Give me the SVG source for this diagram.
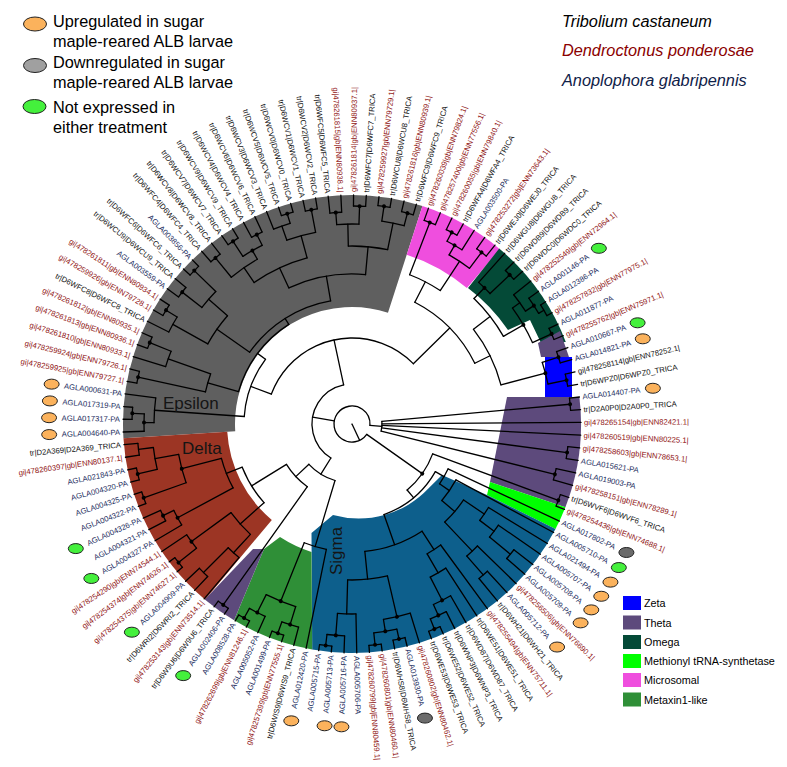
<svg xmlns="http://www.w3.org/2000/svg" width="787" height="767" viewBox="0 0 787 767">
<style>
.f{font-family:"Liberation Sans",Arial,Helvetica,sans-serif}
.t{font-size:7.7px}
.l{text-anchor:end}
.k{fill:#111}
.r{fill:#8f1313}
.u{fill:#1c2d5e}
.b{fill:none;stroke:#000;stroke-width:1.3;stroke-linecap:round}
.s{fill:none}
.o{fill:#fbb25c;stroke:#222;stroke-width:1}
.g{fill:#44f03c;stroke:#222;stroke-width:1}
.y{fill:#6b6b6b;stroke:#222;stroke-width:1}
.yl{fill:#a0a0a0;stroke:#222;stroke-width:1}
.big{font-size:16.3px}
.cl{font-size:17px;fill:#151515}
.lg{font-size:10.8px;fill:#000}
</style>
<rect width="787" height="767" fill="#fff"/>
<g id="tree" transform="translate(352,424)">
<g id="clades" class="s">
<circle r="173" stroke="#5f5f5f" stroke-width="112" pathLength="360" stroke-dasharray="111.5 400" transform="rotate(176.41)"/>
<circle r="203.5" stroke="#ef4ede" stroke-width="51" pathLength="360" stroke-dasharray="22.31 400" transform="rotate(287.91)"/>
<circle r="177" stroke="#9c3524" stroke-width="104" pathLength="360" stroke-dasharray="46.53 400" transform="rotate(489.9)"/>
<g transform="translate(-352,-424)" stroke="none">
<path fill="#044a37" d="M468 288L499.2 248.6A229 229 0 0 1 565.8 342L541 343L530 320L508 330A180 180 0 0 0 468 288Z"/>
<path fill="#5d4a7c" d="M541 357L538 343L560 331L569 357Z"/>
<rect x="545" y="357" width="27" height="40" fill="#0000ff"/>
<path fill="#5d4a7c" d="M507 397L579.4 397A229 229 0 0 1 565.4 507.2L490 482Z"/>
<path fill="#00ff00" d="M490 482L565.4 507.2A229 229 0 0 1 555.5 529L487 495Z"/>
<path fill="#0d5f8c" d="M312.2 649.5L311.5 533L333 515A96 96 0 0 0 428.6 488.3L442 475L487 495L555.5 529A229 229 0 0 1 312.2 649.5Z"/>
<path fill="#2f8f37" d="M264 549L280 537A134 134 0 0 0 311.5 552L312.2 649.5A229 229 0 0 1 234.1 620.3Z"/>
<path fill="#5d4a7c" d="M264 549L234.1 620.3A229 229 0 0 1 204.8 599.4L253 549Z"/>
</g>
</g>
<g id="connectors" class="b">
<circle r="18" pathLength="360" stroke-dasharray="329.16 400" transform="rotate(395.23)"/>
<path d="M0 0H18" transform="rotate(65)"/>
<path d="M18 0H86" transform="rotate(395.23)"/>
<path d="M18 0H40" transform="rotate(549.88)"/>
<path d="M18 0H30" transform="rotate(724.39)"/>
<circle r="30" pathLength="360" stroke-dasharray="19.11 400" transform="rotate(714.83)"/>
<path d="M30 0H219" transform="rotate(714.83)"/>
<path d="M30 0H229" transform="rotate(719.6)"/>
<path d="M30 0H229" transform="rotate(722.79)"/>
<path d="M30 0H217" transform="rotate(727.57)"/>
<path d="M30 0H209" transform="rotate(733.94)"/>
<circle r="219" pathLength="360" stroke-dasharray="3.19 400" transform="rotate(713.23)"/>
<path d="M219 0H229" transform="rotate(713.23)"/><path d="M219 0H229" transform="rotate(716.42)"/>
<circle r="217" pathLength="360" stroke-dasharray="3.18 400" transform="rotate(725.98)"/>
<path d="M217 0H229" transform="rotate(725.98)"/><path d="M217 0H229" transform="rotate(729.16)"/>
<circle r="209" pathLength="360" stroke-dasharray="3.18 400" transform="rotate(732.35)"/>
<path d="M209 0H229" transform="rotate(732.35)"/><path d="M209 0H229" transform="rotate(735.53)"/>
<circle r="86" pathLength="360" stroke-dasharray="29.82 400" transform="rotate(380.32)"/>
<path d="M86 0H220" transform="rotate(380.32)"/><path d="M86 0H96" transform="rotate(410.14)"/>
<circle r="220" pathLength="360" stroke-dasharray="3.19 400" transform="rotate(378.72)"/>
<path d="M220 0H229" transform="rotate(378.72)"/><path d="M220 0H229" transform="rotate(381.91)"/>
<circle r="96" pathLength="360" stroke-dasharray="40.82 400" transform="rotate(389.73)"/>
<path d="M96 0H106" transform="rotate(389.73)"/><path d="M96 0H128" transform="rotate(430.55)"/>
<circle r="106" pathLength="360" stroke-dasharray="9.27 400" transform="rotate(385.09)"/>
<path d="M106 0H229" transform="rotate(385.09)"/><path d="M106 0H118" transform="rotate(394.36)"/>
<circle r="118" pathLength="360" stroke-dasharray="12.15 400" transform="rotate(388.28)"/>
<path d="M118 0H229" transform="rotate(388.28)"/><path d="M118 0H135" transform="rotate(400.43)"/>
<circle r="135" pathLength="360" stroke-dasharray="12.35 400" transform="rotate(394.25)"/>
<path d="M135 0H160" transform="rotate(394.25)"/><path d="M135 0H175" transform="rotate(406.6)"/>
<circle r="160" pathLength="360" stroke-dasharray="5.58 400" transform="rotate(391.46)"/>
<path d="M160 0H229" transform="rotate(391.46)"/><path d="M160 0H178" transform="rotate(397.04)"/>
<circle r="178" pathLength="360" stroke-dasharray="4.78 400" transform="rotate(394.65)"/>
<path d="M178 0H229" transform="rotate(394.65)"/><path d="M178 0H205" transform="rotate(399.43)"/>
<circle r="205" pathLength="360" stroke-dasharray="3.18 400" transform="rotate(397.84)"/>
<path d="M205 0H229" transform="rotate(397.84)"/><path d="M205 0H229" transform="rotate(401.02)"/>
<circle r="175" pathLength="360" stroke-dasharray="4.78 400" transform="rotate(404.21)"/>
<path d="M175 0H229" transform="rotate(404.21)"/><path d="M175 0H200" transform="rotate(408.99)"/>
<circle r="200" pathLength="360" stroke-dasharray="3.18 400" transform="rotate(407.4)"/>
<path d="M200 0H229" transform="rotate(407.4)"/><path d="M200 0H229" transform="rotate(410.58)"/>
<circle r="128" pathLength="360" stroke-dasharray="27.38 400" transform="rotate(416.86)"/>
<path d="M128 0H150" transform="rotate(416.86)"/><path d="M128 0H156" transform="rotate(444.24)"/>
<circle r="150" pathLength="360" stroke-dasharray="6.17 400" transform="rotate(413.77)"/>
<path d="M150 0H229" transform="rotate(413.77)"/><path d="M150 0H172" transform="rotate(419.94)"/>
<circle r="172" pathLength="360" stroke-dasharray="5.98 400" transform="rotate(416.95)"/>
<path d="M172 0H229" transform="rotate(416.95)"/><path d="M172 0H198" transform="rotate(422.93)"/>
<circle r="198" pathLength="360" stroke-dasharray="5.58 400" transform="rotate(420.14)"/>
<path d="M198 0H229" transform="rotate(420.14)"/><path d="M198 0H210" transform="rotate(425.72)"/>
<circle r="210" pathLength="360" stroke-dasharray="4.78 400" transform="rotate(423.33)"/>
<path d="M210 0H229" transform="rotate(423.33)"/><path d="M210 0H221" transform="rotate(428.11)"/>
<circle r="221" pathLength="360" stroke-dasharray="3.19 400" transform="rotate(426.51)"/>
<path d="M221 0H229" transform="rotate(426.51)"/><path d="M221 0H229" transform="rotate(429.7)"/>
<circle r="156" pathLength="360" stroke-dasharray="14.73 400" transform="rotate(436.87)"/>
<path d="M156 0H198" transform="rotate(436.87)"/><path d="M156 0H190" transform="rotate(451.6)"/>
<circle r="198" pathLength="360" stroke-dasharray="7.98 400" transform="rotate(432.88)"/>
<path d="M198 0H229" transform="rotate(432.88)"/><path d="M198 0H210" transform="rotate(440.86)"/>
<circle r="210" pathLength="360" stroke-dasharray="6.37 400" transform="rotate(437.67)"/>
<path d="M210 0H220" transform="rotate(437.67)"/><path d="M210 0H222" transform="rotate(444.04)"/>
<circle r="220" pathLength="360" stroke-dasharray="3.19 400" transform="rotate(436.07)"/>
<path d="M220 0H229" transform="rotate(436.07)"/><path d="M220 0H229" transform="rotate(439.26)"/>
<circle r="222" pathLength="360" stroke-dasharray="3.19 400" transform="rotate(442.44)"/>
<path d="M222 0H229" transform="rotate(442.44)"/><path d="M222 0H229" transform="rotate(445.63)"/>
<circle r="190" pathLength="360" stroke-dasharray="5.58 400" transform="rotate(448.81)"/>
<path d="M190 0H229" transform="rotate(448.81)"/><path d="M190 0H212" transform="rotate(454.39)"/>
<circle r="212" pathLength="360" stroke-dasharray="4.78 400" transform="rotate(452)"/>
<path d="M212 0H229" transform="rotate(452)"/><path d="M212 0H223" transform="rotate(456.78)"/>
<circle r="223" pathLength="360" stroke-dasharray="3.18 400" transform="rotate(455.19)"/>
<path d="M223 0H229" transform="rotate(455.19)"/><path d="M223 0H229" transform="rotate(458.37)"/>
<circle r="40" pathLength="360" stroke-dasharray="136.1 400" transform="rotate(481.83)"/>
<path d="M40 0H59" transform="rotate(481.83)"/><path d="M40 0H86" transform="rotate(617.93)"/>
<circle r="59" pathLength="360" stroke-dasharray="30.17 400" transform="rotate(466.74)"/>
<path d="M59 0H128" transform="rotate(466.74)"/><path d="M59 0H77" transform="rotate(496.91)"/>
<circle r="128" pathLength="360" stroke-dasharray="10.36 400" transform="rotate(461.56)"/>
<path d="M128 0H229" transform="rotate(461.56)"/><path d="M128 0H191" transform="rotate(471.92)"/>
<circle r="191" pathLength="360" stroke-dasharray="9.55 400" transform="rotate(467.14)"/>
<path d="M191 0H210" transform="rotate(467.14)"/><path d="M191 0H211" transform="rotate(476.69)"/>
<circle r="210" pathLength="360" stroke-dasharray="4.79 400" transform="rotate(464.74)"/>
<path d="M210 0H229" transform="rotate(464.74)"/><path d="M210 0H222" transform="rotate(469.53)"/>
<circle r="222" pathLength="360" stroke-dasharray="3.19 400" transform="rotate(467.93)"/>
<path d="M222 0H229" transform="rotate(467.93)"/><path d="M222 0H229" transform="rotate(471.12)"/>
<circle r="211" pathLength="360" stroke-dasharray="4.78 400" transform="rotate(474.3)"/>
<path d="M211 0H229" transform="rotate(474.3)"/><path d="M211 0H222" transform="rotate(479.08)"/>
<circle r="222" pathLength="360" stroke-dasharray="3.18 400" transform="rotate(477.49)"/>
<path d="M222 0H229" transform="rotate(477.49)"/><path d="M222 0H229" transform="rotate(480.67)"/>
<circle r="77" pathLength="360" stroke-dasharray="22.9 400" transform="rotate(485.46)"/>
<path d="M77 0H222" transform="rotate(485.46)"/><path d="M77 0H118" transform="rotate(508.36)"/>
<circle r="222" pathLength="360" stroke-dasharray="3.19 400" transform="rotate(483.86)"/>
<path d="M222 0H229" transform="rotate(483.86)"/><path d="M222 0H229" transform="rotate(487.05)"/>
<circle r="118" pathLength="360" stroke-dasharray="20.31 400" transform="rotate(498.2)"/>
<path d="M118 0H150" transform="rotate(498.2)"/><path d="M118 0H135" transform="rotate(518.51)"/>
<circle r="150" pathLength="360" stroke-dasharray="11.16 400" transform="rotate(492.62)"/>
<path d="M150 0H175" transform="rotate(492.62)"/><path d="M150 0H199" transform="rotate(503.78)"/>
<circle r="175" pathLength="360" stroke-dasharray="4.78 400" transform="rotate(490.23)"/>
<path d="M175 0H229" transform="rotate(490.23)"/><path d="M175 0H210" transform="rotate(495.01)"/>
<circle r="210" pathLength="360" stroke-dasharray="3.18 400" transform="rotate(493.42)"/>
<path d="M210 0H229" transform="rotate(493.42)"/><path d="M210 0H229" transform="rotate(496.6)"/>
<circle r="199" pathLength="360" stroke-dasharray="4.77 400" transform="rotate(501.39)"/>
<path d="M199 0H222" transform="rotate(501.39)"/><path d="M199 0H229" transform="rotate(506.16)"/>
<circle r="222" pathLength="360" stroke-dasharray="3.19 400" transform="rotate(499.79)"/>
<path d="M222 0H229" transform="rotate(499.79)"/><path d="M222 0H229" transform="rotate(502.98)"/>
<circle r="135" pathLength="360" stroke-dasharray="13.54 400" transform="rotate(511.74)"/>
<path d="M135 0H198" transform="rotate(511.74)"/><path d="M135 0H176" transform="rotate(525.28)"/>
<circle r="198" pathLength="360" stroke-dasharray="4.78 400" transform="rotate(509.35)"/>
<path d="M198 0H229" transform="rotate(509.35)"/><path d="M198 0H210" transform="rotate(514.13)"/>
<circle r="210" pathLength="360" stroke-dasharray="3.19 400" transform="rotate(512.53)"/>
<path d="M210 0H229" transform="rotate(512.53)"/><path d="M210 0H229" transform="rotate(515.72)"/>
<circle r="176" pathLength="360" stroke-dasharray="9.56 400" transform="rotate(520.5)"/>
<path d="M176 0H221" transform="rotate(520.5)"/><path d="M176 0H200" transform="rotate(530.06)"/>
<circle r="221" pathLength="360" stroke-dasharray="3.18 400" transform="rotate(518.91)"/>
<path d="M221 0H229" transform="rotate(518.91)"/><path d="M221 0H229" transform="rotate(522.09)"/>
<circle r="200" pathLength="360" stroke-dasharray="6.38 400" transform="rotate(526.87)"/>
<path d="M200 0H220" transform="rotate(526.87)"/><path d="M200 0H215" transform="rotate(533.25)"/>
<circle r="220" pathLength="360" stroke-dasharray="3.18 400" transform="rotate(525.28)"/>
<path d="M220 0H229" transform="rotate(525.28)"/><path d="M220 0H229" transform="rotate(528.46)"/>
<circle r="215" pathLength="360" stroke-dasharray="3.19 400" transform="rotate(531.65)"/>
<path d="M215 0H229" transform="rotate(531.65)"/><path d="M215 0H229" transform="rotate(534.84)"/>
<circle r="86" pathLength="360" stroke-dasharray="115.12 400" transform="rotate(560.37)"/>
<path d="M86 0H108" transform="rotate(560.37)"/><path d="M86 0H137" transform="rotate(675.49)"/>
<circle r="108" pathLength="360" stroke-dasharray="32.79 400" transform="rotate(543.98)"/>
<path d="M108 0H198" transform="rotate(543.98)"/><path d="M108 0H118" transform="rotate(576.77)"/>
<circle r="118" pathLength="360" stroke-dasharray="41.67 400" transform="rotate(555.93)"/>
<path d="M118 0H150" transform="rotate(555.93)"/><path d="M118 0H125" transform="rotate(597.6)"/>
<circle r="150" pathLength="360" stroke-dasharray="7.17 400" transform="rotate(552.34)"/>
<path d="M150 0H219" transform="rotate(552.34)"/><path d="M150 0H195" transform="rotate(559.51)"/>
<circle r="198" pathLength="360" stroke-dasharray="7.17 400" transform="rotate(540.39)"/>
<path d="M198 0H208" transform="rotate(540.39)"/><path d="M198 0H229" transform="rotate(547.56)"/>
<circle r="208" pathLength="360" stroke-dasharray="4.78 400" transform="rotate(538)"/>
<path d="M208 0H229" transform="rotate(538)"/><path d="M208 0H220" transform="rotate(542.78)"/>
<circle r="220" pathLength="360" stroke-dasharray="3.18 400" transform="rotate(541.19)"/>
<path d="M220 0H229" transform="rotate(541.19)"/><path d="M220 0H229" transform="rotate(544.37)"/>
<circle r="219" pathLength="360" stroke-dasharray="3.19 400" transform="rotate(550.74)"/>
<path d="M219 0H229" transform="rotate(550.74)"/><path d="M219 0H229" transform="rotate(553.93)"/>
<circle r="195" pathLength="360" stroke-dasharray="4.78 400" transform="rotate(557.12)"/>
<path d="M195 0H229" transform="rotate(557.12)"/><path d="M195 0H218" transform="rotate(561.9)"/>
<circle r="218" pathLength="360" stroke-dasharray="3.19 400" transform="rotate(560.3)"/>
<path d="M218 0H229" transform="rotate(560.3)"/><path d="M218 0H229" transform="rotate(563.49)"/>
<circle r="125" pathLength="360" stroke-dasharray="45.1 400" transform="rotate(575.05)"/>
<path d="M125 0H165" transform="rotate(575.05)"/><path d="M125 0H150" transform="rotate(620.15)"/>
<circle r="165" pathLength="360" stroke-dasharray="11.95 400" transform="rotate(569.07)"/>
<path d="M165 0H205" transform="rotate(569.07)"/><path d="M165 0H190" transform="rotate(581.02)"/>
<circle r="205" pathLength="360" stroke-dasharray="4.79 400" transform="rotate(566.67)"/>
<path d="M205 0H229" transform="rotate(566.67)"/><path d="M205 0H218" transform="rotate(571.46)"/>
<circle r="218" pathLength="360" stroke-dasharray="3.19 400" transform="rotate(569.86)"/>
<path d="M218 0H229" transform="rotate(569.86)"/><path d="M218 0H229" transform="rotate(573.05)"/>
<circle r="190" pathLength="360" stroke-dasharray="6.37 400" transform="rotate(577.83)"/>
<path d="M190 0H215" transform="rotate(577.83)"/><path d="M190 0H220" transform="rotate(584.2)"/>
<circle r="215" pathLength="360" stroke-dasharray="3.19 400" transform="rotate(576.23)"/>
<path d="M215 0H229" transform="rotate(576.23)"/><path d="M215 0H229" transform="rotate(579.42)"/>
<circle r="220" pathLength="360" stroke-dasharray="3.19 400" transform="rotate(582.6)"/>
<path d="M220 0H229" transform="rotate(582.6)"/><path d="M220 0H229" transform="rotate(585.79)"/>
<circle r="150" pathLength="360" stroke-dasharray="30.07 400" transform="rotate(605.11)"/>
<path d="M150 0H172" transform="rotate(605.11)"/><path d="M150 0H178" transform="rotate(635.18)"/>
<circle r="172" pathLength="360" stroke-dasharray="19.52 400" transform="rotate(595.35)"/>
<path d="M172 0H190" transform="rotate(595.35)"/><path d="M172 0H195" transform="rotate(614.87)"/>
<circle r="190" pathLength="360" stroke-dasharray="9.56 400" transform="rotate(590.57)"/>
<path d="M190 0H215" transform="rotate(590.57)"/><path d="M190 0H200" transform="rotate(600.13)"/>
<circle r="215" pathLength="360" stroke-dasharray="3.18 400" transform="rotate(588.98)"/>
<path d="M215 0H229" transform="rotate(588.98)"/><path d="M215 0H229" transform="rotate(592.16)"/>
<circle r="200" pathLength="360" stroke-dasharray="6.38 400" transform="rotate(596.94)"/>
<path d="M200 0H218" transform="rotate(596.94)"/><path d="M200 0H212" transform="rotate(603.32)"/>
<circle r="218" pathLength="360" stroke-dasharray="3.18 400" transform="rotate(595.35)"/>
<path d="M218 0H229" transform="rotate(595.35)"/><path d="M218 0H229" transform="rotate(598.53)"/>
<circle r="212" pathLength="360" stroke-dasharray="3.19 400" transform="rotate(601.72)"/>
<path d="M212 0H229" transform="rotate(601.72)"/><path d="M212 0H229" transform="rotate(604.91)"/>
<circle r="195" pathLength="360" stroke-dasharray="8.77 400" transform="rotate(610.48)"/>
<path d="M195 0H210" transform="rotate(610.48)"/><path d="M195 0H218" transform="rotate(619.25)"/>
<circle r="210" pathLength="360" stroke-dasharray="4.78 400" transform="rotate(608.09)"/>
<path d="M210 0H229" transform="rotate(608.09)"/><path d="M210 0H220" transform="rotate(612.87)"/>
<circle r="220" pathLength="360" stroke-dasharray="3.18 400" transform="rotate(611.28)"/>
<path d="M220 0H229" transform="rotate(611.28)"/><path d="M220 0H229" transform="rotate(614.46)"/>
<circle r="218" pathLength="360" stroke-dasharray="3.19 400" transform="rotate(617.65)"/>
<path d="M218 0H229" transform="rotate(617.65)"/><path d="M218 0H229" transform="rotate(620.84)"/>
<circle r="178" pathLength="360" stroke-dasharray="12.74 400" transform="rotate(628.81)"/>
<path d="M178 0H200" transform="rotate(628.81)"/><path d="M178 0H205" transform="rotate(641.55)"/>
<circle r="200" pathLength="360" stroke-dasharray="6.37 400" transform="rotate(625.62)"/>
<path d="M200 0H212" transform="rotate(625.62)"/><path d="M200 0H218" transform="rotate(631.99)"/>
<circle r="212" pathLength="360" stroke-dasharray="3.19 400" transform="rotate(624.02)"/>
<path d="M212 0H229" transform="rotate(624.02)"/><path d="M212 0H229" transform="rotate(627.21)"/>
<circle r="218" pathLength="360" stroke-dasharray="3.19 400" transform="rotate(630.39)"/>
<path d="M218 0H229" transform="rotate(630.39)"/><path d="M218 0H229" transform="rotate(633.58)"/>
<circle r="205" pathLength="360" stroke-dasharray="6.37 400" transform="rotate(638.36)"/>
<path d="M205 0H220" transform="rotate(638.36)"/><path d="M205 0H218" transform="rotate(644.73)"/>
<circle r="220" pathLength="360" stroke-dasharray="3.18 400" transform="rotate(636.77)"/>
<path d="M220 0H229" transform="rotate(636.77)"/><path d="M220 0H229" transform="rotate(639.95)"/>
<circle r="218" pathLength="360" stroke-dasharray="3.18 400" transform="rotate(643.14)"/>
<path d="M218 0H229" transform="rotate(643.14)"/><path d="M218 0H229" transform="rotate(646.32)"/>
<circle r="137" pathLength="360" stroke-dasharray="36.39 400" transform="rotate(657.29)"/>
<path d="M137 0H160" transform="rotate(657.29)"/><path d="M137 0H154" transform="rotate(693.68)"/>
<circle r="160" pathLength="360" stroke-dasharray="12.35 400" transform="rotate(651.11)"/>
<path d="M160 0H216" transform="rotate(651.11)"/><path d="M160 0H195" transform="rotate(663.46)"/>
<circle r="216" pathLength="360" stroke-dasharray="3.19 400" transform="rotate(649.51)"/>
<path d="M216 0H229" transform="rotate(649.51)"/><path d="M216 0H229" transform="rotate(652.7)"/>
<circle r="195" pathLength="360" stroke-dasharray="7.17 400" transform="rotate(659.87)"/>
<path d="M195 0H206" transform="rotate(659.87)"/><path d="M195 0H215" transform="rotate(667.04)"/>
<circle r="206" pathLength="360" stroke-dasharray="4.77 400" transform="rotate(657.48)"/>
<path d="M206 0H216" transform="rotate(657.48)"/><path d="M206 0H229" transform="rotate(662.25)"/>
<circle r="216" pathLength="360" stroke-dasharray="3.19 400" transform="rotate(655.88)"/>
<path d="M216 0H229" transform="rotate(655.88)"/><path d="M216 0H229" transform="rotate(659.07)"/>
<circle r="215" pathLength="360" stroke-dasharray="3.19 400" transform="rotate(665.44)"/>
<path d="M215 0H229" transform="rotate(665.44)"/><path d="M215 0H229" transform="rotate(668.63)"/>
<circle r="154" pathLength="360" stroke-dasharray="23.19 400" transform="rotate(682.08)"/>
<path d="M154 0H175" transform="rotate(682.08)"/><path d="M154 0H200" transform="rotate(705.27)"/>
<circle r="175" pathLength="360" stroke-dasharray="15.73 400" transform="rotate(674.21)"/>
<path d="M175 0H190" transform="rotate(674.21)"/><path d="M175 0H198" transform="rotate(689.94)"/>
<circle r="190" pathLength="360" stroke-dasharray="4.79 400" transform="rotate(671.81)"/>
<path d="M190 0H229" transform="rotate(671.81)"/><path d="M190 0H217" transform="rotate(676.6)"/>
<circle r="217" pathLength="360" stroke-dasharray="3.19 400" transform="rotate(675)"/>
<path d="M217 0H229" transform="rotate(675)"/><path d="M217 0H229" transform="rotate(678.19)"/>
<circle r="198" pathLength="360" stroke-dasharray="11.55 400" transform="rotate(684.16)"/>
<path d="M198 0H207" transform="rotate(684.16)"/><path d="M198 0H219" transform="rotate(695.71)"/>
<circle r="207" pathLength="360" stroke-dasharray="5.58 400" transform="rotate(681.37)"/>
<path d="M207 0H229" transform="rotate(681.37)"/><path d="M207 0H217" transform="rotate(686.95)"/>
<circle r="217" pathLength="360" stroke-dasharray="4.78 400" transform="rotate(684.56)"/>
<path d="M217 0H229" transform="rotate(684.56)"/><path d="M217 0H223" transform="rotate(689.34)"/>
<circle r="223" pathLength="360" stroke-dasharray="3.19 400" transform="rotate(687.74)"/>
<path d="M223 0H229" transform="rotate(687.74)"/><path d="M223 0H229" transform="rotate(690.93)"/>
<circle r="219" pathLength="360" stroke-dasharray="3.18 400" transform="rotate(694.12)"/>
<path d="M219 0H229" transform="rotate(694.12)"/><path d="M219 0H229" transform="rotate(697.3)"/>
<circle r="200" pathLength="360" stroke-dasharray="6.38 400" transform="rotate(702.08)"/>
<path d="M200 0H217" transform="rotate(702.08)"/><path d="M200 0H219" transform="rotate(708.46)"/>
<circle r="217" pathLength="360" stroke-dasharray="3.18 400" transform="rotate(700.49)"/>
<path d="M217 0H229" transform="rotate(700.49)"/><path d="M217 0H229" transform="rotate(703.67)"/>
<circle r="219" pathLength="360" stroke-dasharray="3.19 400" transform="rotate(706.86)"/>
<path d="M219 0H229" transform="rotate(706.86)"/><path d="M219 0H229" transform="rotate(710.05)"/>
</g>
<g id="support" fill="#000">
<circle cx="219" r="2" transform="rotate(714.83)"/><circle cx="217" r="2" transform="rotate(727.57)"/><circle cx="209" r="2" transform="rotate(733.94)"/>
<circle cx="86" r="2" transform="rotate(395.23)"/><circle cx="220" r="2" transform="rotate(380.32)"/>
<circle cx="198" r="2" transform="rotate(422.93)"/><circle cx="210" r="2" transform="rotate(425.72)"/><circle cx="221" r="2" transform="rotate(428.11)"/>
<circle cx="198" r="2" transform="rotate(436.87)"/><circle cx="210" r="2" transform="rotate(440.86)"/><circle cx="220" r="2" transform="rotate(437.67)"/>
<circle cx="222" r="2" transform="rotate(444.04)"/><circle cx="212" r="2" transform="rotate(454.39)"/><circle cx="223" r="2" transform="rotate(456.78)"/>
<circle cx="191" r="2" transform="rotate(471.92)"/><circle cx="210" r="2" transform="rotate(467.14)"/><circle cx="222" r="2" transform="rotate(469.53)"/>
<circle cx="211" r="2" transform="rotate(476.69)"/><circle cx="222" r="2" transform="rotate(479.08)"/><circle cx="222" r="2" transform="rotate(485.46)"/>
<circle cx="199" r="2" transform="rotate(503.78)"/><circle cx="222" r="2" transform="rotate(501.39)"/><circle cx="198" r="2" transform="rotate(511.74)"/>
<circle cx="210" r="2" transform="rotate(514.13)"/><circle cx="221" r="2" transform="rotate(520.5)"/><circle cx="176" r="2" transform="rotate(525.28)"/>
<circle cx="220" r="2" transform="rotate(526.87)"/>
<circle cx="208" r="2" transform="rotate(540.39)"/><circle cx="220" r="2" transform="rotate(542.78)"/><circle cx="219" r="2" transform="rotate(552.34)"/>
<circle cx="218" r="2" transform="rotate(561.9)"/><circle cx="218" r="2" transform="rotate(571.46)"/><circle cx="215" r="2" transform="rotate(577.83)"/>
<circle cx="220" r="2" transform="rotate(584.2)"/><circle cx="215" r="2" transform="rotate(590.57)"/><circle cx="200" r="2" transform="rotate(600.13)"/>
<circle cx="218" r="2" transform="rotate(596.94)"/><circle cx="212" r="2" transform="rotate(603.32)"/><circle cx="220" r="2" transform="rotate(612.87)"/>
<circle cx="218" r="2" transform="rotate(619.25)"/><circle cx="212" r="2" transform="rotate(625.62)"/><circle cx="218" r="2" transform="rotate(631.99)"/>
<circle cx="220" r="2" transform="rotate(638.36)"/><circle cx="218" r="2" transform="rotate(644.73)"/>
<circle cx="216" r="2" transform="rotate(651.11)"/><circle cx="206" r="2" transform="rotate(659.87)"/><circle cx="216" r="2" transform="rotate(657.48)"/>
<circle cx="215" r="2" transform="rotate(667.04)"/><circle cx="190" r="2" transform="rotate(674.21)"/><circle cx="217" r="2" transform="rotate(676.6)"/>
<circle cx="198" r="2" transform="rotate(689.94)"/><circle cx="217" r="2" transform="rotate(686.95)"/><circle cx="219" r="2" transform="rotate(695.71)"/>
<circle cx="200" r="2" transform="rotate(705.27)"/><circle cx="217" r="2" transform="rotate(702.08)"/><circle cx="219" r="2" transform="rotate(708.46)"/>
</g>
<g id="leaves" class="f t">
<g id="leaf1"><text class="u l" transform="rotate(-2)" x="-232" dy="2.7">AGLA004640-PA</text><ellipse class="o" rx="7.5" ry="5" transform="rotate(178) translate(303) rotate(-178)"/></g>
<g id="leaf2"><text class="u l" transform="rotate(1.19)" x="-232" dy="2.7">AGLA017317-PA</text><ellipse class="o" rx="7.5" ry="5" transform="rotate(181.19) translate(303) rotate(-181.19)"/></g>
<g id="leaf3"><text class="u l" transform="rotate(4.37)" x="-232" dy="2.7">AGLA017319-PA</text><ellipse class="o" rx="7.5" ry="5" transform="rotate(184.37) translate(303) rotate(-184.37)"/></g>
<g id="leaf4"><text class="u l" transform="rotate(7.56)" x="-232" dy="2.7">AGLA000631-PA</text><ellipse class="o" rx="7.5" ry="5" transform="rotate(187.56) translate(303) rotate(-187.56)"/></g>
<g id="leaf5"><text class="r l" transform="rotate(10.74)" x="-232" dy="2.7">gi|478259925|gb|ENN79727.1|</text></g>
<g id="leaf6"><text class="r l" transform="rotate(13.93)" x="-232" dy="2.7">gi|478259924|gb|ENN79726.1|</text></g>
<g id="leaf7"><text class="r l" transform="rotate(17.12)" x="-232" dy="2.7">gi|478261810|gb|ENN80933.1|</text></g>
<g id="leaf8"><text class="r l" transform="rotate(20.3)" x="-232" dy="2.7">gi|478261813|gb|ENN80936.1|</text></g>
<g id="leaf9"><text class="r l" transform="rotate(23.49)" x="-232" dy="2.7">gi|478261812|gb|ENN80935.1|</text></g>
<g id="leaf10"><text class="k l" transform="rotate(26.67)" x="-232" dy="2.7">tr|D6WFC8|D6WFC8_TRICA</text></g>
<g id="leaf11"><text class="r l" transform="rotate(29.86)" x="-232" dy="2.7">gi|478259926|gb|ENN79728.1|</text></g>
<g id="leaf12"><text class="r l" transform="rotate(33.05)" x="-232" dy="2.7">gi|478261811|gb|ENN80934.1|</text></g>
<g id="leaf13"><text class="u l" transform="rotate(36.23)" x="-232" dy="2.7">AGLA003559-PA</text></g>
<g id="leaf14"><text class="k l" transform="rotate(39.42)" x="-232" dy="2.7">tr|D6WCU9|D6WCU9_TRICA</text></g>
<g id="leaf15"><text class="k l" transform="rotate(42.6)" x="-232" dy="2.7">tr|D6WFC6|D6WFC6_TRICA</text></g>
<g id="leaf16"><text class="u l" transform="rotate(45.79)" x="-232" dy="2.7">AGLA003856-PA</text></g>
<g id="leaf17"><text class="k l" transform="rotate(48.98)" x="-232" dy="2.7">tr|D6WFC4|D6WFC4_TRICA</text></g>
<g id="leaf18"><text class="k l" transform="rotate(52.16)" x="-232" dy="2.7">tr|D6WCV8|D6WCV8_TRICA</text></g>
<g id="leaf19"><text class="k l" transform="rotate(55.35)" x="-232" dy="2.7">tr|D6WCV7|D6WCV7_TRICA</text></g>
<g id="leaf20"><text class="k l" transform="rotate(58.53)" x="-232" dy="2.7">tr|D6WCV9|D6WCV9_TRICA</text></g>
<g id="leaf21"><text class="k l" transform="rotate(61.72)" x="-232" dy="2.7">tr|D6WCV4|D6WCV4_TRICA</text></g>
<g id="leaf22"><text class="k l" transform="rotate(64.91)" x="-232" dy="2.7">tr|D6WCV6|D6WCV6_TRICA</text></g>
<g id="leaf23"><text class="k l" transform="rotate(68.09)" x="-232" dy="2.7">tr|D6WCV3|D6WCV3_TRICA</text></g>
<g id="leaf24"><text class="k l" transform="rotate(71.28)" x="-232" dy="2.7">tr|D6WCV5|D6WCV5_TRICA</text></g>
<g id="leaf25"><text class="k l" transform="rotate(74.46)" x="-232" dy="2.7">tr|D6WCV0|D6WCV0_TRICA</text></g>
<g id="leaf26"><text class="k l" transform="rotate(77.65)" x="-232" dy="2.7">tr|D6WCV1|D6WCV1_TRICA</text></g>
<g id="leaf27"><text class="k l" transform="rotate(80.84)" x="-232" dy="2.7">tr|D6WCV2|D6WCV2_TRICA</text></g>
<g id="leaf28"><text class="k l" transform="rotate(84.02)" x="-232" dy="2.7">tr|D6WFC5|D6WFC5_TRICA</text></g>
<g id="leaf29"><text class="r l" transform="rotate(87.21)" x="-232" dy="2.7">gi|478261815|gb|ENN80938.1|</text></g>
<g id="leaf30"><text class="r" transform="rotate(-89.61)" x="232" dy="2.7">gi|478261814|gb|ENN80937.1|</text></g>
<g id="leaf31"><text class="k" transform="rotate(-86.42)" x="232" dy="2.7">tr|D6WFC7|D6WFC7_TRICA</text></g>
<g id="leaf32"><text class="r" transform="rotate(-83.23)" x="232" dy="2.7">gi|478259927|gb|ENN79729.1|</text></g>
<g id="leaf33"><text class="k" transform="rotate(-80.05)" x="232" dy="2.7">tr|D6WCU8|D6WCU8_TRICA</text></g>
<g id="leaf34"><text class="r" transform="rotate(-76.86)" x="232" dy="2.7">gi|478261816|gb|ENN80939.1|</text></g>
<g id="leaf35"><text class="k" transform="rotate(-73.68)" x="232" dy="2.7">tr|D6WFC9|D6WFC9_TRICA</text></g>
<g id="leaf36"><text class="r" transform="rotate(-70.49)" x="232" dy="2.7">gi|478260039|gb|ENN79824.1|</text></g>
<g id="leaf37"><text class="r" transform="rotate(-67.3)" x="232" dy="2.7">gi|478257400|gb|ENN77556.1|</text></g>
<g id="leaf38"><text class="r" transform="rotate(-64.12)" x="232" dy="2.7">gi|478260055|gb|ENN79840.1|</text></g>
<g id="leaf39"><text class="k" transform="rotate(-60.93)" x="232" dy="2.7">tr|D6WFA4|D6WFA4_TRICA</text></g>
<g id="leaf40"><text class="u" transform="rotate(-57.75)" x="232" dy="2.7">AGLA003500-PA</text></g>
<g id="leaf41"><text class="r" transform="rotate(-54.56)" x="232" dy="2.7">gi|478253272|gb|ENN73643.1|</text></g>
<g id="leaf42"><text class="k" transform="rotate(-51.37)" x="232" dy="2.7">tr|D6WEJ0|D6WEJ0_TRICA</text></g>
<g id="leaf43"><text class="k" transform="rotate(-48.19)" x="232" dy="2.7">tr|D6WGU8|D6WGU8_TRICA</text></g>
<g id="leaf44"><text class="k" transform="rotate(-45)" x="232" dy="2.7">tr|D6WDB9|D6WDB9_TRICA</text></g>
<g id="leaf45"><text class="k" transform="rotate(-41.81)" x="232" dy="2.7">tr|D6WDC0|D6WDC0_TRICA</text></g>
<g id="leaf46"><text class="r" transform="rotate(-38.63)" x="232" dy="2.7">gi|478252549|gb|ENN72964.1|</text></g>
<g id="leaf47"><text class="u" transform="rotate(-35.44)" x="232" dy="2.7">AGLA001146-PA</text><ellipse class="g" rx="7.5" ry="5" transform="rotate(-35.44) translate(303) rotate(35.44)"/></g>
<g id="leaf48"><text class="u" transform="rotate(-32.26)" x="232" dy="2.7">AGLA012386-PA</text></g>
<g id="leaf49"><text class="r" transform="rotate(-29.07)" x="232" dy="2.7">gi|478257832|gb|ENN77975.1|</text></g>
<g id="leaf50"><text class="u" transform="rotate(-25.88)" x="232" dy="2.7">AGLA011877-PA</text></g>
<g id="leaf51"><text class="r" transform="rotate(-22.7)" x="232" dy="2.7">gi|478255762|gb|ENN75971.1|</text></g>
<g id="leaf52"><text class="u" transform="rotate(-19.51)" x="232" dy="2.7">AGLA010667-PA</text><ellipse class="g" rx="7.5" ry="5" transform="rotate(-19.51) translate(303) rotate(19.51)"/></g>
<g id="leaf53"><text class="u" transform="rotate(-16.33)" x="232" dy="2.7">AGLA014821-PA</text><ellipse class="o" rx="7.5" ry="5" transform="rotate(-16.33) translate(303) rotate(16.33)"/></g>
<g id="leaf54"><text class="k" transform="rotate(-13.14)" x="232" dy="2.7">gi|478258114|gb|ENN78252.1|</text></g>
<g id="leaf55"><text class="k" transform="rotate(-9.95)" x="232" dy="2.7">tr|D6WPZ0|D6WPZ0_TRICA</text></g>
<g id="leaf56"><text class="u" transform="rotate(-6.77)" x="232" dy="2.7">AGLA014407-PA</text><ellipse class="o" rx="7.5" ry="5" transform="rotate(-6.77) translate(303) rotate(6.77)"/></g>
<g id="leaf57"><text class="k" transform="rotate(-3.58)" x="232" dy="2.7">tr|D2A0P0|D2A0P0_TRICA</text></g>
<g id="leaf58"><text class="r" transform="rotate(-0.4)" x="232" dy="2.7">gi|478265154|gb|ENN82421.1|</text></g>
<g id="leaf59"><text class="r" transform="rotate(2.79)" x="232" dy="2.7">gi|478260519|gb|ENN80225.1|</text></g>
<g id="leaf60"><text class="r" transform="rotate(5.98)" x="232" dy="2.7">gi|478258603|gb|ENN78653.1|</text></g>
<g id="leaf61"><text class="u" transform="rotate(9.16)" x="232" dy="2.7">AGLA015621-PA</text></g>
<g id="leaf62"><text class="u" transform="rotate(12.35)" x="232" dy="2.7">AGLA019003-PA</text></g>
<g id="leaf63"><text class="r" transform="rotate(15.53)" x="232" dy="2.7">gi|478258151|gb|ENN78289.1|</text></g>
<g id="leaf64"><text class="k" transform="rotate(18.72)" x="232" dy="2.7">tr|D6WVF6|D6WVF6_TRICA</text></g>
<g id="leaf65"><text class="r" transform="rotate(21.91)" x="232" dy="2.7">gi|478254436|gb|ENN74688.1|</text></g>
<g id="leaf66"><text class="u" transform="rotate(25.09)" x="232" dy="2.7">AGLA017802-PA</text><ellipse class="y" rx="7.5" ry="5" transform="rotate(25.09) translate(303) rotate(-25.09)"/></g>
<g id="leaf67"><text class="u" transform="rotate(28.28)" x="232" dy="2.7">AGLA005710-PA</text><ellipse class="g" rx="7.5" ry="5" transform="rotate(28.28) translate(303) rotate(-28.28)"/></g>
<g id="leaf68"><text class="u" transform="rotate(31.46)" x="232" dy="2.7">AGLA021494-PA</text><ellipse class="o" rx="7.5" ry="5" transform="rotate(31.46) translate(303) rotate(-31.46)"/></g>
<g id="leaf69"><text class="u" transform="rotate(34.65)" x="232" dy="2.7">AGLA005707-PA</text><ellipse class="o" rx="7.5" ry="5" transform="rotate(34.65) translate(303) rotate(-34.65)"/></g>
<g id="leaf70"><text class="u" transform="rotate(37.84)" x="232" dy="2.7">AGLA005708-PA</text><ellipse class="o" rx="7.5" ry="5" transform="rotate(37.84) translate(303) rotate(-37.84)"/></g>
<g id="leaf71"><text class="u" transform="rotate(41.02)" x="232" dy="2.7">AGLA005709-PA</text><ellipse class="o" rx="7.5" ry="5" transform="rotate(41.02) translate(303) rotate(-41.02)"/></g>
<g id="leaf72"><text class="r" transform="rotate(44.21)" x="232" dy="2.7">gi|478256506|gb|ENN76690.1|</text></g>
<g id="leaf73"><text class="u" transform="rotate(47.4)" x="232" dy="2.7">AGLA005712-PA</text><ellipse class="o" rx="7.5" ry="5" transform="rotate(47.4) translate(303) rotate(-47.4)"/></g>
<g id="leaf74"><text class="k" transform="rotate(50.58)" x="232" dy="2.7">tr|D6WH21|D6WH21_TRICA</text></g>
<g id="leaf75"><text class="r" transform="rotate(53.77)" x="232" dy="2.7">gi|478255494|gb|ENN75711.1|</text></g>
<g id="leaf76"><text class="k" transform="rotate(56.95)" x="232" dy="2.7">tr|D6WE51|D6WE51_TRICA</text></g>
<g id="leaf77"><text class="k" transform="rotate(60.14)" x="232" dy="2.7">tr|D6WD87|D6WD87_TRICA</text></g>
<g id="leaf78"><text class="k" transform="rotate(63.33)" x="232" dy="2.7">tr|D6WNP3|D6WNP3_TRICA</text></g>
<g id="leaf79"><text class="k" transform="rotate(66.51)" x="232" dy="2.7">tr|D6WE52|D6WE52_TRICA</text></g>
<g id="leaf80"><text class="k" transform="rotate(69.7)" x="232" dy="2.7">tr|D6WE53|D6WE53_TRICA</text></g>
<g id="leaf81"><text class="r" transform="rotate(72.88)" x="232" dy="2.7">gi|478260802|gb|ENN80462.1|</text></g>
<g id="leaf82"><text class="u" transform="rotate(76.07)" x="232" dy="2.7">AGLA013930-PA</text><ellipse class="y" rx="7.5" ry="5" transform="rotate(76.07) translate(303) rotate(-76.07)"/></g>
<g id="leaf83"><text class="k" transform="rotate(79.26)" x="232" dy="2.7">tr|D6WHS8|D6WHS8_TRICA</text></g>
<g id="leaf84"><text class="r" transform="rotate(82.44)" x="232" dy="2.7">gi|478260801|gb|ENN80460.1|</text></g>
<g id="leaf85"><text class="r" transform="rotate(85.63)" x="232" dy="2.7">gi|478260799|gb|ENN80459.1|</text></g>
<g id="leaf86"><text class="u" transform="rotate(88.81)" x="232" dy="2.7">AGLA005706-PA</text></g>
<g id="leaf87"><text class="u l" transform="rotate(-88)" x="-232" dy="2.7">AGLA005716-PA</text><ellipse class="o" rx="7.5" ry="5" transform="rotate(92) translate(303) rotate(-92)"/></g>
<g id="leaf88"><text class="u l" transform="rotate(-84.81)" x="-232" dy="2.7">AGLA005713-PA</text><ellipse class="o" rx="7.5" ry="5" transform="rotate(95.19) translate(303) rotate(-95.19)"/></g>
<g id="leaf89"><text class="u l" transform="rotate(-81.63)" x="-232" dy="2.7">AGLA005715-PA</text></g>
<g id="leaf90"><text class="u l" transform="rotate(-78.44)" x="-232" dy="2.7">AGLA012420-PA</text><ellipse class="o" rx="7.5" ry="5" transform="rotate(101.56) translate(303) rotate(-101.56)"/></g>
<g id="leaf91"><text class="k l" transform="rotate(-75.26)" x="-232" dy="2.7">tr|D6WIS9|D6WIS9_TRICA</text></g>
<g id="leaf92"><text class="r l" transform="rotate(-72.07)" x="-232" dy="2.7">gi|478257399|gb|ENN77555.1|</text></g>
<g id="leaf93"><text class="u l" transform="rotate(-68.88)" x="-232" dy="2.7">AGLA001499-PA</text></g>
<g id="leaf94"><text class="u l" transform="rotate(-65.7)" x="-232" dy="2.7">AGLA005052-PA</text></g>
<g id="leaf95"><text class="r l" transform="rotate(-62.51)" x="-232" dy="2.7">gi|478262699|gb|ENN81246.1|</text></g>
<g id="leaf96"><text class="u l" transform="rotate(-59.33)" x="-232" dy="2.7">AGLA008528-PA</text></g>
<g id="leaf97"><text class="u l" transform="rotate(-56.14)" x="-232" dy="2.7">AGLA002406-PA</text><ellipse class="g" rx="7.5" ry="5" transform="rotate(123.86) translate(303) rotate(-123.86)"/></g>
<g id="leaf98"><text class="k l" transform="rotate(-52.95)" x="-232" dy="2.7">tr|D6W9U6|D6W9U6_TRICA</text></g>
<g id="leaf99"><text class="r l" transform="rotate(-49.77)" x="-232" dy="2.7">gi|478253143|gb|ENN73514.1|</text></g>
<g id="leaf100"><text class="k l" transform="rotate(-46.58)" x="-232" dy="2.7">tr|D6WRI2|D6WRI2_TRICA</text></g>
<g id="leaf101"><text class="u l" transform="rotate(-43.4)" x="-232" dy="2.7">AGLA004909-PA</text><ellipse class="g" rx="7.5" ry="5" transform="rotate(136.6) translate(303) rotate(-136.6)"/></g>
<g id="leaf102"><text class="r l" transform="rotate(-40.21)" x="-232" dy="2.7">gi|478254375|gb|ENN74627.1|</text></g>
<g id="leaf103"><text class="r l" transform="rotate(-37.02)" x="-232" dy="2.7">gi|478254374|gb|ENN74626.1|</text></g>
<g id="leaf104"><text class="r l" transform="rotate(-33.84)" x="-232" dy="2.7">gi|478254290|gb|ENN74544.1|</text></g>
<g id="leaf105"><text class="u l" transform="rotate(-30.65)" x="-232" dy="2.7">AGLA004327-PA</text><ellipse class="g" rx="7.5" ry="5" transform="rotate(149.35) translate(303) rotate(-149.35)"/></g>
<g id="leaf106"><text class="u l" transform="rotate(-27.47)" x="-232" dy="2.7">AGLA004321-PA</text></g>
<g id="leaf107"><text class="u l" transform="rotate(-24.28)" x="-232" dy="2.7">AGLA004326-PA</text><ellipse class="g" rx="7.5" ry="5" transform="rotate(155.72) translate(303) rotate(-155.72)"/></g>
<g id="leaf108"><text class="u l" transform="rotate(-21.09)" x="-232" dy="2.7">AGLA004322-PA</text></g>
<g id="leaf109"><text class="u l" transform="rotate(-17.91)" x="-232" dy="2.7">AGLA004325-PA</text></g>
<g id="leaf110"><text class="u l" transform="rotate(-14.72)" x="-232" dy="2.7">AGLA004320-PA</text></g>
<g id="leaf111"><text class="u l" transform="rotate(-11.54)" x="-232" dy="2.7">AGLA021843-PA</text></g>
<g id="leaf112"><text class="r l" transform="rotate(-8.35)" x="-232" dy="2.7">gi|478260397|gb|ENN80137.1|</text></g>
<g id="leaf113"><text class="k l" transform="rotate(-5.16)" x="-232" dy="2.7">tr|D2A369|D2A369_TRICA</text></g>
</g>
</g>
<g id="clade-labels" class="f cl">
<text x="163" y="409">Epsilon</text>
<text x="182" y="454">Delta</text>
<text transform="translate(342,551) rotate(-90)" text-anchor="middle">Sigma</text>
</g>
<g id="legend-expression" class="f big">
<ellipse class="o" cx="35" cy="24" rx="11.5" ry="7"/>
<ellipse class="yl" cx="35" cy="65.5" rx="11.5" ry="7"/>
<ellipse class="g" cx="34.5" cy="106.5" rx="11.5" ry="7"/>
<text x="53" y="27">Upregulated in sugar</text>
<text x="53" y="47">maple-reared ALB larvae</text>
<text x="53" y="68">Downregulated in sugar</text>
<text x="53" y="88">maple-reared ALB larvae</text>
<text x="53" y="113">Not expressed in</text>
<text x="53" y="133">either treatment</text>
</g>
<g id="legend-species" class="f big" font-style="italic">
<text x="562" y="27" fill="#000">Tribolium castaneum</text>
<text x="562" y="56" fill="#8b0000">Dendroctonus ponderosae</text>
<text x="562" y="86" fill="#0f2148">Anoplophora glabripennis</text>
</g>
<g id="legend-clades" class="f lg">
<rect x="623" y="596" width="18" height="14" fill="#0000ff"/><text x="644" y="607">Zeta</text>
<rect x="623" y="615.5" width="18" height="14" fill="#5d4a7c"/><text x="644" y="626.5">Theta</text>
<rect x="623" y="635" width="18" height="14" fill="#044a37"/><text x="644" y="646">Omega</text>
<rect x="623" y="654" width="18" height="14" fill="#00ff00"/><text x="644" y="665">Methionyl tRNA-synthetase</text>
<rect x="623" y="673" width="18" height="14" fill="#ef4ede"/><text x="644" y="684">Microsomal</text>
<rect x="623" y="692.5" width="18" height="14" fill="#2f8f37"/><text x="644" y="703.5">Metaxin1-like</text>
</g>
</svg>
